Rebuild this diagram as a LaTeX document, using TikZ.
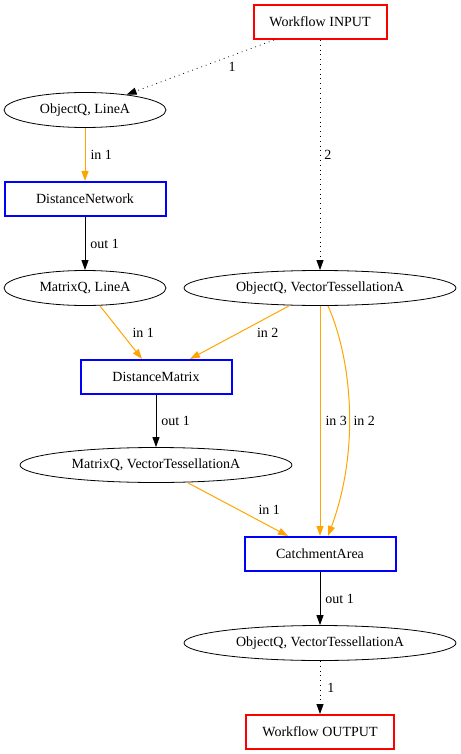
\documentclass[tikz,border=0pt]{standalone}
\usepackage{fontspec}
\setmainfont{Liberation Serif}
\usetikzlibrary{
    arrows.meta,
    positioning,
    shapes.geometric
}
\newcommand{\gvfont}{\fontsize{14pt}{16pt}\selectfont}
\definecolor{gvOrange}{RGB}{255,165,0}
\tikzset{
  io/.style      = {draw=red, line width=2pt, minimum height=34pt,
                    inner sep=0pt, font=\gvfont},
  proc/.style    = {draw=blue, line width=2pt, minimum height=34pt,
                    inner sep=0pt, font=\gvfont},
  data/.style    = {draw, ellipse, line width=0.8pt, minimum height=35pt,
                    inner sep=0pt, font=\gvfont},
  lbl/.style     = {inner sep=1pt, text=black, font=\gvfont},
  tip/.style     = {-{Triangle[length=10pt,width=7pt]}},
  wflow/.style   = {tip, line width=0.8pt, dash pattern=on 0.8pt off 4pt},
  inarr/.style   = {tip, gvOrange, line width=1pt},
  outarr/.style  = {tip, black, line width=0.8pt}
}

\begin{document}
\begin{tikzpicture}[x=1pt, y=-1pt]
    \useasboundingbox (0,0) rectangle (460,754);

    \node[io, minimum width=133pt]   (wfin)  at (320,22)  {Workflow INPUT};
    \node[data, minimum width=162pt] (ola)   at (85,110)  {ObjectQ, LineA};
    \node[proc, minimum width=161pt] (dnet)  at (85,199)  {DistanceNetwork};
    \node[data, minimum width=162pt] (mla)   at (85,288)  {MatrixQ, LineA};
    \node[data, minimum width=272pt] (ovt)   at (320,288) {ObjectQ, VectorTessellationA};
    \node[proc, minimum width=151pt] (dmat)  at (156,377) {DistanceMatrix};
    \node[data, minimum width=272pt] (mvt)   at (156,465) {MatrixQ, VectorTessellationA};
    \node[proc, minimum width=151pt] (catch) at (320,554) {CatchmentArea};
    \node[data, minimum width=272pt] (ovtb)  at (320,643) {ObjectQ, VectorTessellationA};
    \node[io, minimum width=148pt]   (wfout) at (320,732) {Workflow OUTPUT};

    % workflow inputs
    \draw[wflow] ([xshift=-46pt]wfin.south) -- node[lbl, right=27pt]{1} (ola);
    \draw[wflow] (wfin) -- node[lbl, right=3pt]{2} (ovt);

    % DistanceNetwork
    \draw[inarr] (ola) -- node[lbl, right=4pt]{in 1} (dnet);
    \draw[outarr] (dnet) -- node[lbl, right=4pt]{out 1} (mla);

    % DistanceMatrix
    \draw[inarr] ([xshift=15pt]mla.south) -- node[lbl, right=10pt]{in 1}
      ([xshift=-14pt]dmat.north);
    \draw[inarr] ([xshift=-31pt]ovt.south) -- node[lbl, right=16pt]{in 2}
      ([xshift=34pt]dmat.north);
    \draw[outarr] (dmat) -- node[lbl, right=4pt]{out 1} (mvt);

    % CatchmentArea
    \draw[inarr] ([xshift=32pt]mvt.south) -- node[lbl, right=19pt]{in 1}
      ([xshift=-32pt]catch.north);
    \draw[inarr] (ovt) -- node[lbl, right=4pt]{in 3} (catch);
    \draw[inarr] ([xshift=8pt]ovt.south) .. controls (352,360) and (360,450) ..
      node[lbl, pos=0.55, right=3pt]{in 2} ([xshift=8pt]catch.north);
    \draw[outarr] (catch) -- node[lbl, right=4pt]{out 1} (ovtb);

    % workflow output
    \draw[wflow] (ovtb) -- node[lbl, right=6pt]{1} (wfout);
\end{tikzpicture}
\end{document}
